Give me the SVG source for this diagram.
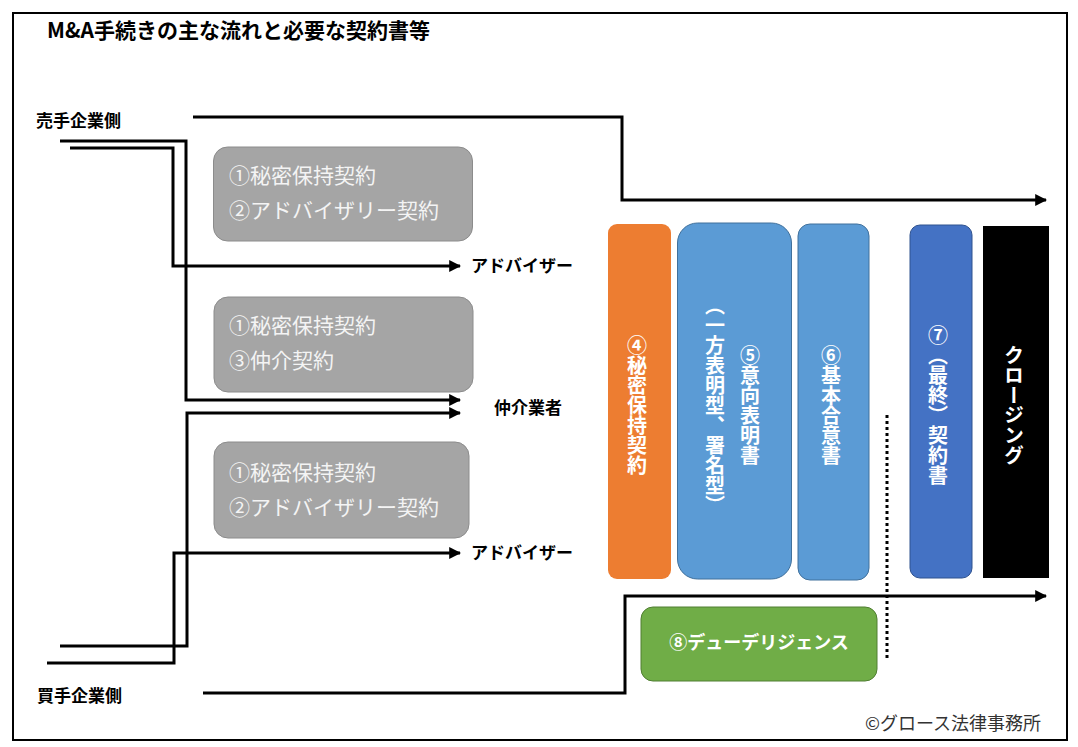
<svg xmlns="http://www.w3.org/2000/svg" width="1078" height="747" viewBox="0 0 1078 747">
<style>
text{font-family:"Noto Sans CJK JP","Noto Sans",sans-serif}
.b{font-weight:bold;fill:#000}
.gt{fill:#f4f4f4;font-size:21px}
.vt{fill:#fff;font-size:20px;font-weight:bold;writing-mode:vertical-rl}
.ln{fill:none;stroke:#000;stroke-width:3}
.gray{fill:#a5a5a5;stroke:#8c8c8c;stroke-width:1}
</style>
<defs>
<marker id="ah" viewBox="0 0 10 10" refX="9" refY="5" markerWidth="4" markerHeight="4" orient="auto" markerUnits="strokeWidth">
<path d="M0,0 L10,5 L0,10 z" fill="#000"/>
</marker>
</defs>
<rect x="13" y="13" width="1054" height="727" fill="#fff" stroke="#000" stroke-width="2"/>
<text class="b" x="47" y="38" font-size="21">M&amp;A手続きの主な流れと必要な契約書等</text>
<g id="seller"><text class="b" x="36" y="127" font-size="17">売手企業側</text></g>
<g id="buyer"><text class="b" x="37" y="702" font-size="17">買手企業側</text></g>
<g id="adviser1"><text class="b" x="471" y="272" font-size="17">アドバイザー</text></g>
<g id="broker"><text class="b" x="494" y="414" font-size="17">仲介業者</text></g>
<g id="adviser2"><text class="b" x="471" y="559" font-size="17">アドバイザー</text></g>
<g id="box1"><rect class="gray" x="213.5" y="147" width="259" height="94" rx="14"/>
<text class="gt" x="229" y="183">①秘密保持契約</text><text class="gt" x="229" y="218">②アドバイザリー契約</text></g>
<g id="box2"><rect class="gray" x="214" y="297" width="259" height="95" rx="14"/>
<text class="gt" x="229" y="333">①秘密保持契約</text><text class="gt" x="229" y="368">③仲介契約</text></g>
<g id="box3"><rect class="gray" x="214" y="442" width="255" height="96" rx="14"/>
<text class="gt" x="229" y="480">①秘密保持契約</text><text class="gt" x="229" y="515">②アドバイザリー契約</text></g>
<g id="step4"><rect x="608" y="224" width="63" height="355" rx="9" fill="#ed7d31"/>
<text class="vt" x="637" y="405" text-anchor="middle">④秘密保持契約</text></g>
<g id="step5"><rect x="677.5" y="223" width="114" height="356" rx="20" fill="#5b9bd5" stroke="#41719c" stroke-width="1"/>
<text class="vt" x="715" y="405" text-anchor="middle">（一方表明型、署名型）</text>
<text class="vt" x="750" y="405" text-anchor="middle">⑤意向表明書</text></g>
<g id="step6"><rect x="798" y="224" width="71" height="356" rx="12" fill="#5b9bd5" stroke="#41719c" stroke-width="1"/>
<text class="vt" x="831" y="405" text-anchor="middle">⑥基本合意書</text></g>
<g id="step7"><rect x="910" y="225" width="62" height="353" rx="10" fill="#4472c4" stroke="#2f528f" stroke-width="1"/>
<text class="vt" x="938" y="405" text-anchor="middle">⑦（最終）契約書</text></g>
<g id="closing"><rect x="983" y="226" width="66" height="352" fill="#000"/>
<text class="vt" x="1014" y="405" text-anchor="middle">クロージング</text></g>
<g id="dd"><rect x="641" y="607" width="236" height="74" rx="12" fill="#70ad47" stroke="#507e32" stroke-width="1"/>
<text x="759" y="649" text-anchor="middle" font-size="18" font-weight="bold" fill="#fff">⑧デューデリジェンス</text></g>
<g id="connectors">
<polyline class="ln" points="193,117 622,117 622,200 1046,200" marker-end="url(#ah)"/>
<polyline class="ln" points="60,141 186,141 186,400 460,400" marker-end="url(#ah)"/>
<polyline class="ln" points="70,148 173,148 173,266 460,266" marker-end="url(#ah)"/>
<polyline class="ln" points="60,646 187,646 187,413 460,413" marker-end="url(#ah)"/>
<polyline class="ln" points="47,663 174,663 174,553 460,553" marker-end="url(#ah)"/>
<polyline class="ln" points="203,693 625,693 625,596 1046,596" marker-end="url(#ah)"/>
<line x1="887" y1="415" x2="887" y2="661" stroke="#000" stroke-width="3" stroke-dasharray="3,3"/>
</g>
<text x="865" y="730" font-size="18" fill="#333">©グロース法律事務所</text>
</svg>
